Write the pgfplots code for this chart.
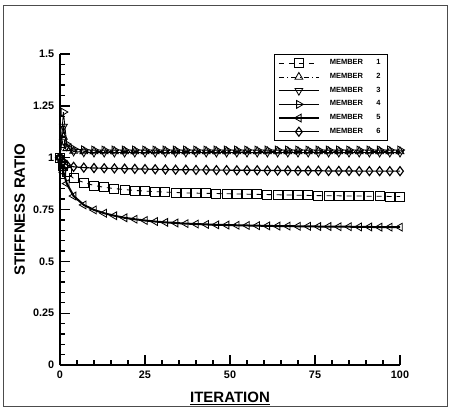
\documentclass[border=0pt]{standalone}
\usepackage{pgfplots}
\pgfplotsset{compat=1.18}
\usepackage{pgfplotstable}
\usepackage{fontspec}
\setmainfont{Liberation Sans}

\pgfplotstableread{
it   m1     m2    m3    m4    m5    m6
0    1.000  1.000 1.000 1.000 1.000 1.000
1    0.960  1.100 1.150 1.220 0.930 0.980
2    0.930  1.045 1.055 1.065 0.875 0.965
4    0.900  1.032 1.030 1.042 0.815 0.956
7    0.880  1.030 1.026 1.038 0.772 0.952
10   0.866  1.030 1.025 1.037 0.748 0.950
13   0.857  1.030 1.025 1.037 0.732 0.949
16   0.851  1.030 1.025 1.037 0.720 0.948
19   0.846  1.030 1.025 1.037 0.710 0.947
22   0.842  1.030 1.025 1.037 0.703 0.946
25   0.839  1.030 1.025 1.037 0.697 0.945
28   0.836  1.030 1.025 1.037 0.692 0.944
31   0.834  1.030 1.025 1.037 0.688 0.943
34   0.832  1.030 1.025 1.037 0.685 0.942
37   0.830  1.030 1.025 1.037 0.682 0.942
40   0.829  1.030 1.025 1.037 0.680 0.941
43   0.828  1.030 1.025 1.037 0.678 0.941
46   0.827  1.030 1.025 1.037 0.676 0.940
49   0.826  1.030 1.025 1.037 0.675 0.940
52   0.825  1.030 1.025 1.037 0.674 0.939
55   0.824  1.030 1.025 1.037 0.673 0.939
58   0.823  1.030 1.025 1.037 0.672 0.939
61   0.822  1.030 1.025 1.037 0.671 0.938
64   0.821  1.030 1.025 1.037 0.670 0.938
67   0.820  1.030 1.025 1.037 0.670 0.938
70   0.819  1.030 1.025 1.037 0.669 0.937
73   0.818  1.030 1.025 1.037 0.669 0.937
76   0.817  1.030 1.025 1.037 0.668 0.937
79   0.816  1.030 1.025 1.037 0.668 0.936
82   0.816  1.030 1.025 1.037 0.667 0.936
85   0.815  1.030 1.025 1.037 0.667 0.936
88   0.815  1.030 1.025 1.037 0.666 0.935
91   0.814  1.030 1.025 1.037 0.666 0.935
94   0.814  1.030 1.025 1.037 0.665 0.935
97   0.813  1.030 1.025 1.037 0.665 0.935
100  0.813  1.030 1.025 1.037 0.665 0.935
}\stiff

\begin{document}
\begin{tikzpicture}
% page frame: 454x412 px at 0.6pt per px, axis origin at px (60,365)
\path (-36pt,-28.2pt) rectangle (236.4pt,219pt);
\draw[black!70,line width=0.4pt] (-34.2pt,-24.6pt) rectangle (232.2pt,216pt);
\begin{axis}[
  at={(0pt,0pt)},anchor=origin,
  scale only axis,width=204pt,height=186.6pt,
  xmin=0,xmax=100,ymin=0,ymax=1.5,
  axis x line*=bottom,axis y line*=left,
  axis line style={line width=1.1pt,-},
  xtick={0,25,50,75,100},ytick={0,0.25,0.5,0.75,1,1.25,1.5},
  yticklabels={0,0.25,0.5,0.75,1,1.25,1.5},
  minor x tick num=4,minor y tick num=4,
  tick align=inside,
  major tick length=6pt,minor tick length=3pt,
  tick style={black,line width=0.8pt},
  /pgf/number format/assume math mode=true,
  ticklabel style={font=\fontsize{6.5}{8}\selectfont\bfseries},
  xlabel={\underline{ITERATION}},ylabel={STIFFNESS RATIO},
  label style={font=\fontsize{9}{10}\selectfont\bfseries},
  xlabel style={yshift=-1pt},
  ylabel style={yshift=-2pt},
  legend style={at={(rel axis cs:0.63,1)},anchor=north west,
    draw=black,line width=0.5pt,font=\fontsize{4.5}{5}\selectfont\bfseries,
    row sep=-0.4pt,inner xsep=2pt,inner ysep=1pt},
  legend cell align=left,
  legend image code/.code={\draw[mark repeat=2,mark phase=2]
    plot coordinates {(0cm,0cm)(0.42cm,0cm)(0.84cm,0cm)};},
  every axis plot/.append style={mark size=2.7pt},
]
\addplot[black,line width=0.5pt,dashed,mark=square,mark options={solid}] table[x=it,y=m1] {\stiff};
\addlegendentry{\hspace{4pt}MEMBER\hspace{8pt}1}
\addplot[black,line width=0.5pt,dash dot,mark=triangle,mark options={solid}] table[x=it,y=m2] {\stiff};
\addlegendentry{\hspace{4pt}MEMBER\hspace{8pt}2}
\addplot[black,line width=0.5pt,mark=triangle,mark options={solid,rotate=180}] table[x=it,y=m3] {\stiff};
\addlegendentry{\hspace{4pt}MEMBER\hspace{8pt}3}
\addplot[black,line width=0.5pt,mark=triangle,mark options={solid,rotate=-90}] table[x=it,y=m4] {\stiff};
\addlegendentry{\hspace{4pt}MEMBER\hspace{8pt}4}
\addplot[black,line width=1.2pt,mark=triangle,mark options={solid,rotate=90,line width=0.5pt}] table[x=it,y=m5] {\stiff};
\addlegendentry{\hspace{4pt}MEMBER\hspace{8pt}5}
\addplot[black,line width=0.7pt,mark=diamond,mark options={solid}] table[x=it,y=m6] {\stiff};
\addlegendentry{\hspace{4pt}MEMBER\hspace{8pt}6}
\end{axis}
\end{tikzpicture}
\end{document}
